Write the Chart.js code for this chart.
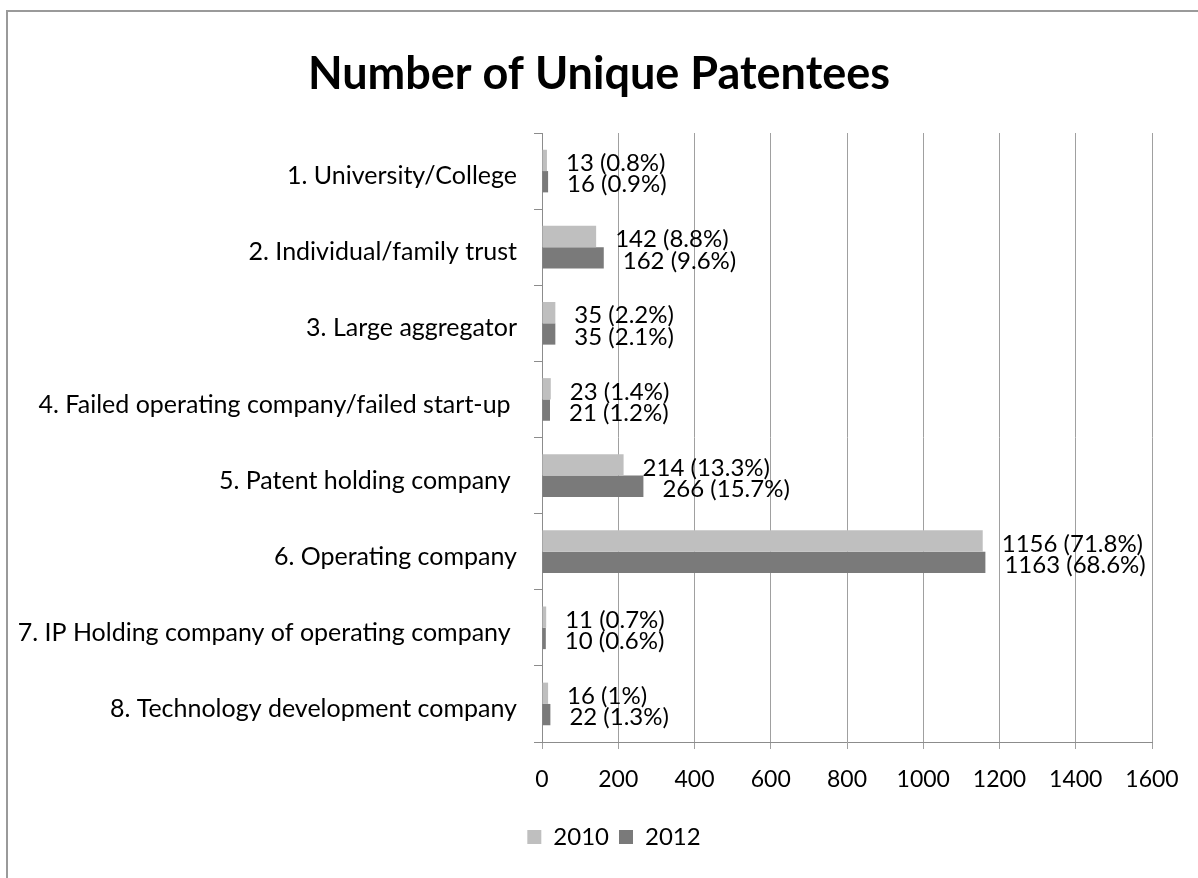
<!DOCTYPE html>
<html><head><meta charset="utf-8">
<script src="https://cdn.jsdelivr.net/npm/chart.js@4.4.0/dist/chart.umd.min.js"></script>
<style>html,body{margin:0;padding:0;background:#fff;overflow:hidden}#wrap{width:1198px;height:878px;position:relative}</style>
</head><body><div id="wrap"><canvas id="c" width="1198" height="878"></canvas></div>
<script>
const categories = [
  '1. University/College',
  '2. Individual/family trust',
  '3. Large aggregator',
  '4. Failed operating company/failed start-up ',
  '5. Patent holding company ',
  '6. Operating company',
  '7. IP Holding company of operating company ',
  '8. Technology development company'
];
const seriesNames = ['2010', '2012'];
const values2010 = [13, 142, 35, 23, 214, 1156, 11, 16];
const values2012 = [16, 162, 35, 21, 266, 1163, 10, 22];
const pct2010 = [0.8, 8.8, 2.2, 1.4, 13.3, 71.8, 0.7, 1];
const pct2012 = [0.9, 9.6, 2.1, 1.2, 15.7, 68.6, 0.6, 1.3];
const xMin = 0, xMax = 1600, xStep = 200;
const titleText = 'Number of Unique Patentees';

const FONT = 'Lato';
const pctSets = [pct2010, pct2012];

const frame = {
  id: 'frame',
  beforeDraw(chart) {
    const ctx = chart.ctx;
    ctx.save();
    ctx.fillStyle = '#fff';
    ctx.fillRect(0, 0, chart.width, chart.height);
    ctx.strokeStyle = '#9a9a9a';
    ctx.lineWidth = 2;
    ctx.beginPath();
    ctx.moveTo(7, 880);
    ctx.lineTo(7, 11);
    ctx.lineTo(1200, 11);
    ctx.stroke();
    ctx.restore();
  },
  afterLayout(chart) {
    if (chart.legend) {
      chart.legend.left += 38;
      chart.legend.right += 38;
    }
    if (chart.titleBlock) {
      chart.titleBlock.left += 23;
      chart.titleBlock.right += 23;
    }
  }
};

const dataLabels = {
  id: 'dataLabels',
  afterDatasetsDraw(chart) {
    const ctx = chart.ctx;
    ctx.save();
    ctx.font = '24px ' + FONT;
    ctx.fillStyle = '#000';
    ctx.textAlign = 'left';
    ctx.textBaseline = 'middle';
    chart.data.datasets.forEach((ds, di) => {
      const meta = chart.getDatasetMeta(di);
      meta.data.forEach((el, i) => {
        const txt = ds.data[i] + ' (' + pctSets[di][i] + '%)';
        ctx.fillText(txt, el.x + 19, el.y + 3);
      });
    });
    ctx.restore();
  }
};

new Chart(document.getElementById('c'), {
  type: 'bar',
  data: {
    labels: categories,
    datasets: [
      { label: seriesNames[0], data: values2010, backgroundColor: '#bfbfbf', borderWidth: 0, categoryPercentage: 0.56, barPercentage: 1.0 },
      { label: seriesNames[1], data: values2012, backgroundColor: '#7a7a7a', borderWidth: 0, categoryPercentage: 0.56, barPercentage: 1.0 }
    ]
  },
  options: {
    indexAxis: 'y',
    responsive: false,
    animation: false,
    layout: { padding: { left: 0, right: 46, top: 0, bottom: 19 } },
    plugins: {
      title: {
        display: true, text: titleText, color: '#000',
        font: { family: FONT, size: 45, weight: 'bold' },
        padding: { top: 47, bottom: 32 }
      },
      legend: {
        display: true, position: 'bottom',
        labels: { color: '#000', font: { family: FONT, size: 24 }, boxWidth: 14, boxHeight: 14, padding: 10 }
      },
      tooltip: { enabled: false }
    },
    scales: {
      x: {
        min: xMin, max: xMax,
        ticks: { stepSize: xStep, color: '#000', font: { family: FONT, size: 23 }, padding: 17,
                 callback: (v) => String(v) },
        grid: { color: '#a0a0a0', lineWidth: 1, drawTicks: true, tickLength: 7 },
        border: { display: true, color: '#8c8c8c', width: 1 },
        afterFit(s) { s.height = 73; }
      },
      y: {
        ticks: { color: '#000', font: { family: FONT, size: 25 }, padding: 17, labelOffset: 5 },
        grid: { display: true, drawOnChartArea: false, drawTicks: true, tickLength: 8, color: '#8c8c8c', offset: true },
        border: { display: true, color: '#8c8c8c', width: 1 },
        afterFit(s) { s.width = 542; }
      }
    }
  },
  plugins: [frame, dataLabels]
});
</script>
</body></html>
